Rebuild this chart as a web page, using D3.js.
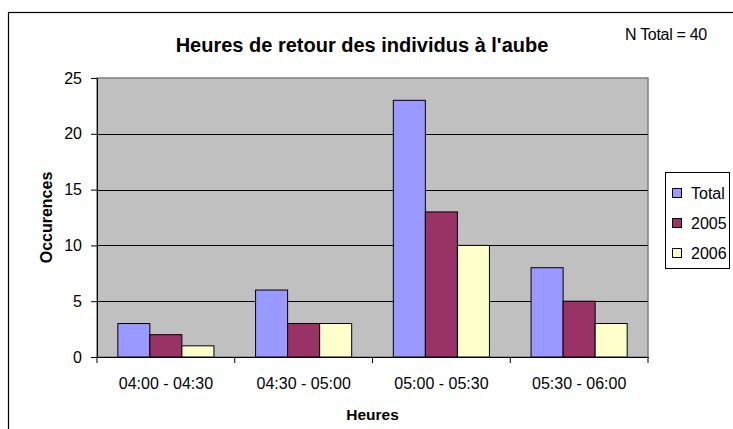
<script src="https://d3js.org/d3.v7.min.js"></script>
<style>
  body { margin: 0; background: #fff; }
  text { font-family: "Liberation Sans", Arial, sans-serif; }
</style>
<svg id="chart" width="733" height="429"></svg>
<script>
var categories = ["04:00 - 04:30", "04:30 - 05:00", "05:00 - 05:30", "05:30 - 06:00"];
var seriesNames = ["Total", "2005", "2006"];
var total = [3, 6, 23, 8];
var y2005 = [2, 3, 13, 5];
var y2006 = [1, 3, 10, 3];
var yTicks = [0, 5, 10, 15, 20, 25];
var colors = ["#9999FF", "#993366", "#FFFFCC"];

var series = [total, y2005, y2006];
var data = categories.map(function (c, i) {
  return { cat: c, values: series.map(function (s, j) { return { name: seriesNames[j], v: s[i] }; }) };
});

var svg = d3.select("#chart");
var margin = { left: 97, right: 85, top: 78, bottom: 72 };
var width = 733, height = 429;
var font = "Liberation Sans, Arial, sans-serif";

// outer frame (right and bottom edges fall outside the picture)
svg.append("rect")
  .attr("x", 8.5).attr("y", 12.5)
  .attr("width", 740).attr("height", 440)
  .attr("fill", "#fff").attr("stroke", "#000").attr("stroke-width", 1.2);

var x = d3.scaleBand()
  .domain(categories)
  .range([margin.left, width - margin.right]);

var x1 = d3.scaleBand()
  .domain(seriesNames)
  .range([0, x.bandwidth()])
  .paddingInner(0)
  .paddingOuter(0.65);

var y = d3.scaleLinear()
  .domain([0, 25])
  .range([height - margin.bottom, margin.top]);

// plot area
svg.append("rect")
  .attr("x", margin.left).attr("y", margin.top)
  .attr("width", width - margin.left - margin.right)
  .attr("height", height - margin.top - margin.bottom)
  .attr("fill", "#C0C0C0")
  .attr("stroke", "#808080").attr("stroke-width", 1.5);

// gridlines
svg.append("g")
  .selectAll("line")
  .data(yTicks.filter(function (d) { return d > 0 && d < 25; }))
  .join("line")
  .attr("x1", margin.left).attr("x2", width - margin.right)
  .attr("y1", function (d) { return Math.round(y(d)) + 0.5; })
  .attr("y2", function (d) { return Math.round(y(d)) + 0.5; })
  .attr("stroke", "#000");

// bars
svg.append("g")
  .selectAll("g")
  .data(data)
  .join("g")
  .attr("transform", function (d) { return "translate(" + x(d.cat) + ",0)"; })
  .selectAll("rect")
  .data(function (d) { return d.values; })
  .join("rect")
  .attr("x", function (d) { return x1(d.name); })
  .attr("y", function (d) { return y(d.v); })
  .attr("width", x1.bandwidth())
  .attr("height", function (d) { return y(0) - y(d.v); })
  .attr("fill", function (d, i) { return colors[i]; })
  .attr("stroke", "#000").attr("stroke-width", 1);

// y axis
var yAxis = svg.append("g")
  .attr("transform", "translate(" + margin.left + ",0)")
  .call(d3.axisLeft(y).tickValues(yTicks).tickSize(6).tickPadding(9));
yAxis.select(".domain").attr("stroke", "#000");
yAxis.selectAll("text").attr("font-size", 16).attr("fill", "#000")
  .attr("font-family", font);

// x axis
var xAxis = svg.append("g")
  .attr("transform", "translate(0," + y(0) + ")")
  .call(d3.axisBottom(x).tickSize(0).tickPadding(21));
xAxis.select(".domain").attr("stroke", "#000");
xAxis.selectAll("text").attr("font-size", 16).attr("fill", "#000")
  .attr("font-family", font);
xAxis.selectAll(".sep")
  .data(d3.range(categories.length + 1))
  .join("line")
  .attr("class", "sep")
  .attr("x1", function (i) { return margin.left + i * x.step(); })
  .attr("x2", function (i) { return margin.left + i * x.step(); })
  .attr("y1", 0).attr("y2", 6)
  .attr("stroke", "#000");

// titles
svg.append("text")
  .attr("x", 362).attr("y", 52)
  .attr("text-anchor", "middle")
  .attr("font-size", 20).attr("font-weight", "bold")
  .text("Heures de retour des individus à l'aube");

svg.append("text")
  .attr("x", 666).attr("y", 40)
  .attr("text-anchor", "middle")
  .attr("font-size", 16).attr("letter-spacing", -0.3)
  .text("N Total = 40");

svg.append("text")
  .attr("transform", "translate(52," + ((margin.top + height - margin.bottom) / 2) + ") rotate(-90)")
  .attr("text-anchor", "middle")
  .attr("font-size", 16).attr("font-weight", "bold")
  .text("Occurences");

svg.append("text")
  .attr("x", (margin.left + width - margin.right) / 2).attr("y", 420)
  .attr("text-anchor", "middle")
  .attr("font-size", 15.5).attr("font-weight", "bold")
  .text("Heures");

// legend
var legend = svg.append("g").attr("transform", "translate(665,172)");
legend.append("rect")
  .attr("x", 0.5).attr("y", 0.5).attr("width", 64).attr("height", 96)
  .attr("fill", "#fff").attr("stroke", "#000");
var li = legend.selectAll(".item")
  .data(seriesNames)
  .join("g")
  .attr("class", "item")
  .attr("transform", function (d, i) { return "translate(7," + (21 + i * 30) + ")"; });
li.append("rect")
  .attr("x", 0.5).attr("y", -4.5).attr("width", 9).attr("height", 9)
  .attr("fill", function (d, i) { return colors[i]; })
  .attr("stroke", "#000");
li.append("text")
  .attr("x", 19).attr("y", 6)
  .attr("font-size", 16)
  .text(function (d) { return d; });
</script>
